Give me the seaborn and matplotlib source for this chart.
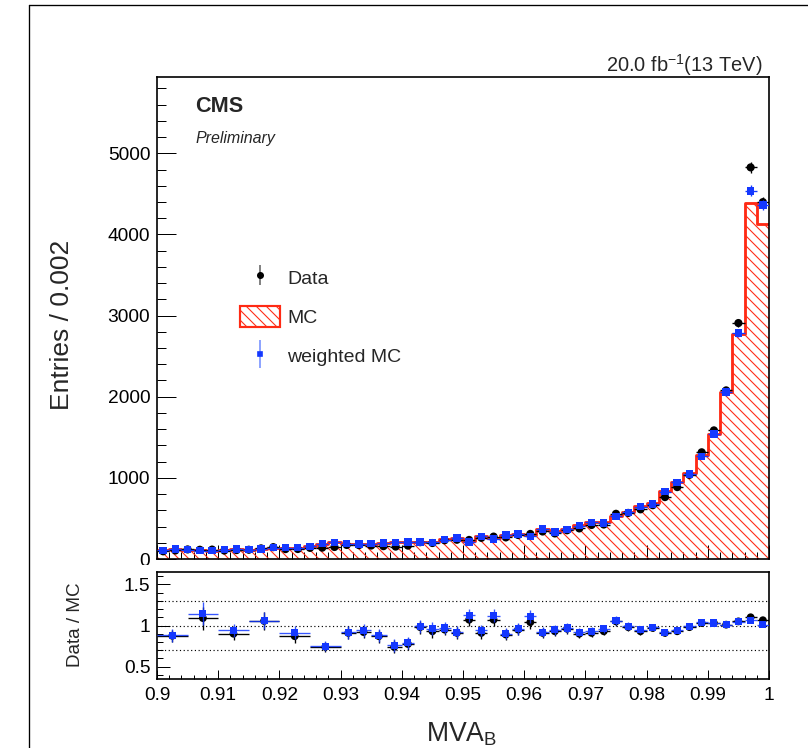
import numpy as np
import pandas as pd
import matplotlib
matplotlib.use("Agg")
import matplotlib.pyplot as plt
import matplotlib.patches as mpatches
from matplotlib.lines import Line2D
from matplotlib.legend_handler import HandlerTuple
from matplotlib.ticker import MultipleLocator, FuncFormatter
import seaborn as sns

# ---------------------------------------------------------------------------
# Histogram content: MVA_B in [0.90, 1.00], 50 bins of width 0.002
# ---------------------------------------------------------------------------
x_low, x_high, bin_width = 0.90, 1.00, 0.002

data_counts = [95, 105, 118, 114, 116, 104, 110, 114, 131, 146,
               122, 123, 137, 140, 148, 173, 171, 166, 158, 153,
               165, 207, 197, 231, 237, 235, 261, 276, 266, 296,
               309, 339, 315, 354, 377, 419, 425, 557, 568, 612,
               663, 763, 886, 1037, 1315, 1585, 2078, 2908, 4826, 4398]

mc_counts = [108, 120, 116, 105, 104, 116, 122, 117, 124, 138,
             140, 141, 158, 186, 204, 190, 186, 190, 198, 207,
             213, 211, 212, 243, 261, 219, 287, 258, 299, 311,
             297, 373, 339, 369, 419, 461, 457, 530, 580, 658,
             684, 838, 953, 1058, 1276, 1539, 2057, 2770, 4387, 4133]

wmc_counts = [106, 123, 115, 102, 102, 115, 123, 115, 123, 139,
              139, 139, 156, 188, 205, 188, 184, 188, 197, 205,
              209, 209, 205, 238, 258, 209, 278, 246, 295, 308,
              278, 369, 332, 365, 410, 451, 443, 525, 574, 644,
              677, 829, 943, 1047, 1264, 1539, 2057, 2783, 4536, 4363]

# Ratio panel uses coarser bins at low MVA_B
ratio_edges = ([0.900, 0.905, 0.910, 0.915, 0.920, 0.925, 0.930,
                0.9325, 0.935, 0.9375]
               + [round(0.940 + 0.002 * i, 3) for i in range(31)])

ratio_data_mc = [0.875, 1.09, 0.90, 1.055, 0.87, 0.74,
                 0.91, 0.92, 0.87, 0.74,
                 0.775, 0.98, 0.93, 0.95, 0.91, 1.07, 0.91, 1.07, 0.89, 0.95,
                 1.04, 0.91, 0.93, 0.96, 0.90, 0.91, 0.93, 1.05, 0.98, 0.93,
                 0.97, 0.91, 0.93, 0.98, 1.03, 1.03, 1.01, 1.05, 1.10, 1.064]

ratio_data_wmc = [0.88, 1.145, 0.94, 1.06, 0.91, 0.75,
                  0.92, 0.94, 0.88, 0.76,
                  0.79, 0.99, 0.96, 0.97, 0.92, 1.124, 0.94, 1.12, 0.90, 0.96,
                  1.11, 0.92, 0.95, 0.97, 0.92, 0.93, 0.96, 1.06, 0.99, 0.95,
                  0.98, 0.92, 0.94, 0.99, 1.04, 1.03, 1.01, 1.045, 1.064, 1.008]

ratio_err = [0.075, 0.14, 0.08, 0.105, 0.08, 0.065,
             0.08, 0.075, 0.08, 0.08,
             0.07, 0.08, 0.08, 0.07, 0.07, 0.08, 0.07, 0.08, 0.07, 0.07,
             0.08, 0.06, 0.06, 0.06, 0.05, 0.05, 0.05, 0.05, 0.05, 0.04,
             0.04, 0.035, 0.035, 0.03, 0.03, 0.025, 0.02, 0.02, 0.02, 0.02]

y_max = 5940
ratio_lo, ratio_hi = 0.35, 1.65
ratio_guides = [0.7, 1.0, 1.3]

RED = "#ff2a14"
BLUE = "#1438ff"
HATCH = "\\" * 4

# ---------------------------------------------------------------------------
# Style
# ---------------------------------------------------------------------------
sns.set_style("ticks")
plt.rcParams["font.family"] = ["Liberation Sans", "DejaVu Sans"]
plt.rcParams["mathtext.fontset"] = "custom"
plt.rcParams["mathtext.rm"] = "Liberation Sans"
plt.rcParams["mathtext.it"] = "Liberation Sans:italic"
plt.rcParams["mathtext.bf"] = "Liberation Sans:bold"
plt.rcParams["hatch.linewidth"] = 0.65
plt.rcParams["hatch.color"] = RED
plt.rcParams["axes.linewidth"] = 1.0

DPI = 120
W, H = 808, 748
fig = plt.figure(figsize=(W / DPI, H / DPI), dpi=DPI, facecolor="white")


def fx(px):
    return px / W


def fy(py):
    return 1 - py / H


left, right = 157, 769
ax = fig.add_axes([fx(left), fy(559), fx(right - left), (559 - 77) / H])
rax = fig.add_axes([fx(left), fy(679), fx(right - left), (679 - 572) / H])

edges = np.round(np.arange(x_low, x_high + bin_width / 2, bin_width), 4)
centers = (edges[:-1] + edges[1:]) / 2
df = pd.DataFrame({"mva": centers, "data": data_counts,
                   "mc": mc_counts, "wmc": wmc_counts})
bin_list = edges.tolist()

# MC: hatched area plus outline
sns.histplot(data=df, x="mva", weights="mc", bins=bin_list, element="step",
             fill=True, color=RED, facecolor="none", edgecolor=RED,
             linewidth=0, hatch=HATCH, ax=ax, zorder=1)
sns.histplot(data=df, x="mva", weights="mc", bins=bin_list, element="step",
             fill=False, color=RED, linewidth=1.7, ax=ax, zorder=2)

half = bin_width / 2
ax.errorbar(df["mva"], df["data"], xerr=half, yerr=np.sqrt(df["data"]),
            fmt="none", ecolor="black", elinewidth=0.8, zorder=4)
sns.scatterplot(data=df, x="mva", y="data", marker="o", s=24,
                color="black", edgecolor="none", ax=ax, zorder=5)
ax.errorbar(df["mva"], df["wmc"], xerr=half, yerr=np.sqrt(df["wmc"]),
            fmt="none", ecolor=BLUE, elinewidth=0.8, zorder=6)
sns.scatterplot(data=df, x="mva", y="wmc", marker="s", s=20,
                color=BLUE, edgecolor="none", ax=ax, zorder=7)

ax.set_xlim(x_low, x_high)
ax.set_ylim(0, y_max)
ax.set_xlabel("")
ax.set_ylabel("")

# Ratio panel
r_edges = np.array(ratio_edges)
r_centers = (r_edges[:-1] + r_edges[1:]) / 2
r_half = (r_edges[1:] - r_edges[:-1]) / 2
rdf = pd.DataFrame({"mva": r_centers, "r_mc": ratio_data_mc,
                    "r_wmc": ratio_data_wmc, "err": ratio_err})

for g in ratio_guides:
    rax.axhline(g, color="black", linestyle=(0, (1, 2.2)), linewidth=0.7,
                zorder=1)
rax.errorbar(rdf["mva"], rdf["r_mc"], xerr=r_half, yerr=rdf["err"],
             fmt="none", ecolor="black", elinewidth=0.8, zorder=3)
sns.scatterplot(data=rdf, x="mva", y="r_mc", marker="o", s=22,
                color="black", edgecolor="none", ax=rax, zorder=4)
rax.errorbar(rdf["mva"], rdf["r_wmc"], xerr=r_half, yerr=rdf["err"],
             fmt="none", ecolor=BLUE, elinewidth=0.8, alpha=0.85, zorder=5)
sns.scatterplot(data=rdf, x="mva", y="r_wmc", marker="s", s=18,
                color=BLUE, edgecolor="none", ax=rax, zorder=6)

rax.set_xlim(x_low, x_high)
rax.set_ylim(ratio_lo, ratio_hi)
rax.set_xlabel("")
rax.set_ylabel("")

# Axes, ticks
for a in (ax, rax):
    for sp in a.spines.values():
        sp.set_visible(True)
        sp.set_linewidth(1.0)
        sp.set_color("black")
    a.tick_params(which="both", direction="in", top=False, right=False,
                  width=0.6, color="black", labelcolor="black")
    a.xaxis.set_major_locator(MultipleLocator(0.01))
    a.xaxis.set_minor_locator(MultipleLocator(0.002))

ax.yaxis.set_major_locator(MultipleLocator(1000))
ax.yaxis.set_minor_locator(MultipleLocator(200))
ax.tick_params(axis="y", which="major", length=11.4, pad=4, labelsize=11.5)
ax.tick_params(axis="y", which="minor", length=5.4)
ax.tick_params(axis="x", which="major", length=8.4, labelbottom=False)
ax.tick_params(axis="x", which="minor", length=4.2)

rax.yaxis.set_major_locator(MultipleLocator(0.5))
rax.yaxis.set_minor_locator(MultipleLocator(0.1))
rax.tick_params(axis="y", which="major", length=7.8, pad=4, labelsize=11.5)
rax.tick_params(axis="y", which="minor", length=3.6)
rax.tick_params(axis="x", which="major", length=5.4, pad=5, labelsize=11.5)
rax.tick_params(axis="x", which="minor", length=2.7)
fmt = FuncFormatter(lambda v, p: f"{round(v, 4):g}")
rax.xaxis.set_major_formatter(fmt)
rax.yaxis.set_major_formatter(fmt)

# Legend
h_data = (Line2D([], [], marker="|", markersize=12, markeredgewidth=0.9,
                 linestyle="none", color="#5a5a5a"),
          Line2D([], [], marker="o", markersize=3.2, linestyle="none",
                 color="black"))
h_mc = mpatches.Patch(facecolor="white", edgecolor=RED, hatch=HATCH,
                      linewidth=1.3)
h_wmc = (Line2D([], [], marker="|", markersize=17, markeredgewidth=0.9,
                linestyle="none", color="#6a88ff"),
         Line2D([], [], marker="s", markersize=2.9, linestyle="none",
                color=BLUE))
ax.legend([h_data, h_mc, h_wmc], ["Data", "MC", "weighted MC"],
          handler_map={tuple: HandlerTuple(ndivide=1)},
          loc="upper left", bbox_to_anchor=(fx(240), fy(266.5)),
          bbox_transform=fig.transFigure, frameon=False, borderpad=0,
          borderaxespad=0, fontsize=11.7, handlelength=2.05,
          handleheight=1.28, handletextpad=0.36, labelspacing=0.945)

# Titles and axis labels
fig.text(fx(195), fy(107), "CMS", fontsize=13, fontweight="bold",
         ha="left", va="center")
fig.text(fx(195), fy(139), "Preliminary", fontsize=9.6, style="italic",
         ha="left", va="center")
fig.text(fx(762), fy(65), r"20.0 fb$^{\mathrm{-1}}$(13 TeV)", fontsize=12,
         ha="right", va="center")
fig.text(fx(62), fy(325), "Entries / 0.002", fontsize=15.8, rotation=90,
         ha="center", va="center")
fig.text(fx(75), fy(625), "Data / MC", fontsize=11.3, rotation=90,
         ha="center", va="center")
fig.text(fx(462), fy(741), r"MVA$_{\mathrm{B}}$", fontsize=16,
         ha="center", va="baseline")

# Lower pad overlaps the bottom of the upper pad's labels
fig.add_artist(mpatches.Rectangle((fx(90), fy(572)), fx(62), (572 - 565) / H,
                                  transform=fig.transFigure, facecolor="white",
                                  edgecolor="none", zorder=3))

# Canvas border
fig.add_artist(Line2D([fx(29), 1], [fy(5), fy(5)], color="black", lw=0.8,
                      transform=fig.transFigure))
fig.add_artist(Line2D([fx(29), fx(29)], [0, fy(5)], color="black", lw=0.8,
                      transform=fig.transFigure))

fig.savefig("out.png", dpi=DPI, facecolor="white")
